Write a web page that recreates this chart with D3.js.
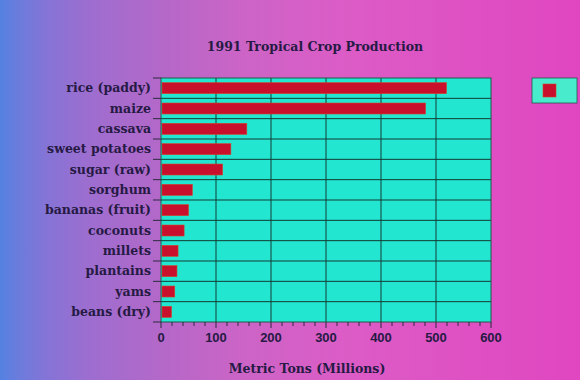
<!DOCTYPE html>
<html>
<head>
<meta charset="utf-8">
<script src="https://cdn.jsdelivr.net/npm/d3@7"></script>
<style>
  body { margin: 0; }
  svg { display: block; }
</style>
</head>
<body>
<svg id="chart" width="580" height="380"></svg>
<script>
// crops, top to bottom
const crops = ['rice (paddy)', 'maize', 'cassava', 'sweet potatoes', 'sugar (raw)', 'sorghum',
               'bananas (fruit)', 'coconuts', 'millets', 'plantains', 'yams', 'beans (dry)'];
// million metric tons
const production = [519, 481, 156, 127, 112, 57, 50, 42, 31, 29, 25, 19];
const xTicks = [0, 100, 200, 300, 400, 500, 600];
const minorTicks = d3.range(0, 601, 20);

const svg = d3.select('#chart');
const plot = {'left': 161, 'right': 491, 'top': 78, 'bottom': 322};
const ink = '#261a44';

// background wash, blue on the left into magenta
const grad = svg.append('defs').append('linearGradient')
    .attr('id', 'bg')
    .attr('x1', '0%').attr('y1', '0%')
    .attr('x2', '100%').attr('y2', '0%');
[['0%', '#5482e2'], ['3%', '#6a7cdc'], ['8%', '#8474d6'], ['15%', '#9c6ed0'], ['28%', '#b468c8'],
 ['42%', '#cc64c6'], ['60%', '#dc5cc6'], ['100%', '#e046c0']].forEach(function(s) {
    grad.append('stop').attr('offset', s[0]).attr('stop-color', s[1]);
});
svg.append('rect')
    .attr('width', 580).attr('height', 380)
    .attr('fill', 'url(#bg)');

const x = d3.scaleLinear().domain([0, 600]).range([plot.left, plot.right]);
const y = d3.scaleBand().domain(crops).range([plot.top, plot.bottom])
    .paddingInner(0.46).paddingOuter(0.23);
const bandEdge = d3.scaleLinear().domain([0, crops.length]).range([plot.top, plot.bottom]);

svg.append('rect')
    .attr('x', plot.left).attr('y', plot.top)
    .attr('width', plot.right - plot.left).attr('height', plot.bottom - plot.top)
    .attr('fill', '#22e6d0');

// grid: vertical at majors, horizontal at category boundaries
svg.append('g').selectAll('line')
    .data(xTicks.slice(1, -1))
    .enter().append('line')
    .attr('x1', function(d) {return x(d); }).attr('x2', function(d) {return x(d); })
    .attr('y1', plot.top).attr('y2', plot.bottom)
    .attr('stroke', '#123c34').attr('stroke-width', 1);

svg.append('g').selectAll('line')
    .data(d3.range(1, crops.length))
    .enter().append('line')
    .attr('x1', plot.left).attr('x2', plot.right)
    .attr('y1', function(d) {return bandEdge(d); }).attr('y2', function(d) {return bandEdge(d); })
    .attr('stroke', '#123c34').attr('stroke-width', 1);

// bars
svg.append('g').selectAll('rect')
    .data(production)
    .enter().append('rect')
    .attr('x', x(0) + 1)
    .attr('y', function(d, i) {return y(crops[i]); })
    .attr('width', function(d) {return x(d) - x(0) - 1; })
    .attr('height', y.bandwidth())
    .attr('fill', '#c8102c')
    .attr('stroke', '#d8402a').attr('stroke-width', 0.6);

// plot frame
svg.append('rect')
    .attr('x', plot.left).attr('y', plot.top)
    .attr('width', plot.right - plot.left).attr('height', plot.bottom - plot.top)
    .attr('fill', 'none').attr('stroke', '#1f5a4a').attr('stroke-width', 1);

// y ticks at boundaries
svg.append('g').selectAll('line')
    .data(d3.range(0, crops.length + 1))
    .enter().append('line')
    .attr('x1', plot.left - 8).attr('x2', plot.left)
    .attr('y1', function(d) {return bandEdge(d); }).attr('y2', function(d) {return bandEdge(d); })
    .attr('stroke', '#2a2a40').attr('stroke-width', 1);

// x ticks below the frame
svg.append('g').selectAll('line')
    .data(minorTicks)
    .enter().append('line')
    .attr('x1', function(d) {return x(d); }).attr('x2', function(d) {return x(d); })
    .attr('y1', plot.bottom)
    .attr('y2', function(d) {return plot.bottom + (d % 100 ? 4 : 6); })
    .attr('stroke', '#2a2a40').attr('stroke-width', 1);

svg.append('g').selectAll('text')
    .data(xTicks)
    .enter().append('text')
    .attr('x', function(d) {return x(d); })
    .attr('y', 342)
    .attr('text-anchor', 'middle')
    .style('font', 'bold 13px "Liberation Sans", Arial, sans-serif')
    .style('fill', ink)
    .text(function(d) {return d; });

// category labels
svg.append('g').selectAll('text')
    .data(crops)
    .enter().append('text')
    .attr('x', 151)
    .attr('y', function(d) {return y(d) + y.bandwidth() / 2 + 4; })
    .attr('text-anchor', 'end')
    .style('font', 'bold 12.5px "DejaVu Serif", serif')
    .style('fill', ink)
    .text(function(d) {return d; });

svg.append('text')
    .attr('x', 315).attr('y', 51)
    .attr('text-anchor', 'middle')
    .style('font', 'bold 12.5px "DejaVu Serif", serif')
    .style('fill', ink)
    .text('1991 Tropical Crop Production');

svg.append('text')
    .attr('x', 307).attr('y', 373)
    .attr('text-anchor', 'middle')
    .style('font', 'bold 12.5px "DejaVu Serif", serif')
    .style('fill', ink)
    .text('Metric Tons (Millions)');

// legend
const legend = svg.append('g').attr('transform', 'translate(532,78)');
legend.append('rect')
    .attr('width', 45).attr('height', 25)
    .attr('fill', '#48eccc')
    .attr('stroke', '#1f5a4a').attr('stroke-width', 0.8);
legend.append('rect')
    .attr('x', 11).attr('y', 6)
    .attr('width', 13).attr('height', 13)
    .attr('fill', '#c8102c')
    .attr('stroke', '#d8402a').attr('stroke-width', 0.6);
</script>
</body>
</html>
